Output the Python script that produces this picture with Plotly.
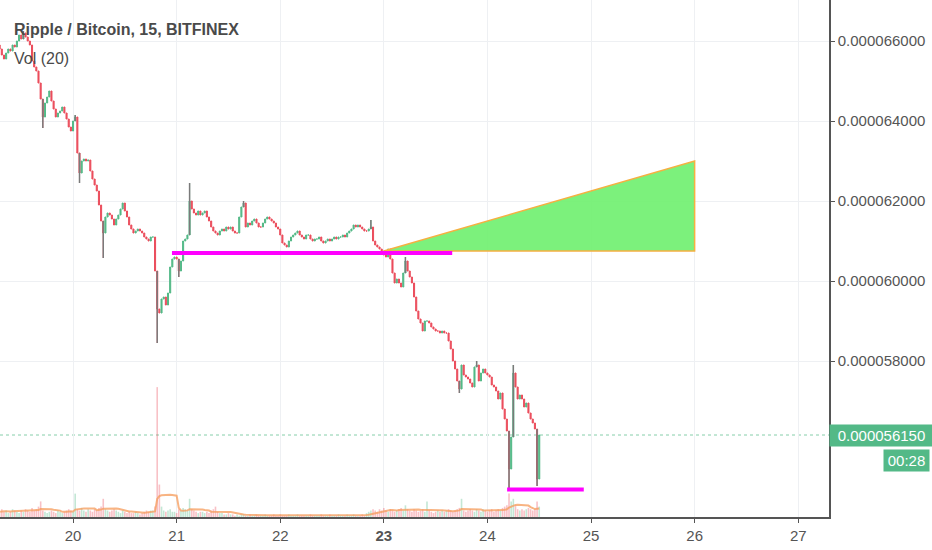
import plotly.graph_objects as go
import pandas as pd

# ---- data (prices in units of 1e-9 BTC) ----
start_day = 19.25          # first 30-minute bar: 19th, 06:00
bar_days = 1 / 48          # 30 minutes
first_open = 65800

closes = [
    65700, 65900, 65800, 65650, 65550, 65700, 65800, 65750, 65900, 65850, 66000, 66150, 66050, 66200, 66100, 66000,
    65900, 65500, 65350, 65250, 64950, 64550, 64100, 64450, 64600, 64750, 64500, 64300, 64100, 64200, 64250, 64350,
    64200, 64050, 63850, 63750, 64000, 64100, 63200, 62700, 63000, 63050, 63000, 63025, 62750, 62550, 62400, 62250,
    61900, 61500, 61200, 61600, 61700, 61650, 61550, 61400, 61550, 61650, 61800, 61950, 61750, 61600, 61400, 61300,
    61200, 61250, 61300, 61250, 61200, 61100, 61050, 61000, 61100, 61100, 60250, 59300, 59200, 59550, 59600, 59400,
    59700, 60350, 60550, 60600, 60550, 60250, 60500, 61000, 61050, 61150, 62000, 61800, 61700, 61650, 61750, 61650,
    61700, 61750, 61600, 61500, 61350, 61250, 61200, 61150, 61250, 61300, 61250, 61350, 61300, 61350, 61250, 61200,
    61200, 61600, 61850, 61950, 61350, 61450, 61400, 61500, 61550, 61450, 61350, 61350, 61450, 61550, 61600, 61550,
    61500, 61450, 61350, 61300, 61150, 60950, 60900, 60850, 61000, 61100, 61150, 61200, 61250, 61150, 61100, 61050,
    61150, 61150, 61050, 61000, 61050, 61050, 61100, 61000, 60950, 61000, 61050, 61000, 61050, 61100, 61050, 61100,
    61100, 61150, 61100, 61200, 61250, 61300, 61400, 61350, 61400, 61350, 61300, 61250, 61250, 61300, 61350, 61000,
    60900, 60850, 60800, 60750, 60650, 60600, 60800, 60550, 60200, 59950, 60050, 59950, 59850, 60200, 60500, 60250,
    60100, 59950, 59600, 59250, 59050, 58950, 58750, 59000, 59000, 58950, 58850, 58800, 58750, 58750, 58700, 58750,
    58700, 58700, 58500, 58300, 58000, 57800, 57500, 57300, 57900, 57650, 57600, 57550, 57450, 57350, 57850, 57900,
    57500, 57700, 57800, 57700, 57650, 57600, 57400, 57350, 57250, 57050, 57200, 56800, 56550, 56250, 55300, 56100,
    57700, 57350, 57050, 57150, 57050, 56850, 56950, 56700, 56550, 56450, 56300, 55050, 56150,
]

wick_high = {13: 66250, 37: 64150, 90: 62450, 115: 62000, 174: 61525, 190: 60600, 223: 58000, 240: 57900}
wick_low = {22: 63825, 39: 62450, 50: 60575, 75: 58450, 85: 60100, 215: 57200, 238: 54825, 251: 54875}

volumes = [
    4, 5, 3, 6, 4, 5, 3, 4, 6, 5, 4, 3, 5, 4, 6, 5,
    4, 7, 5, 6, 8, 12, 5, 4, 3, 4, 5, 4, 3, 5, 4, 3,
    4, 5, 6, 5, 4, 18, 6, 5, 7, 5, 4, 6, 5, 4, 6, 5,
    7, 8, 14, 6, 5, 4, 5, 6, 5, 4, 3, 5, 4, 3, 4, 3,
    3, 4, 3, 2, 3, 4, 5, 4, 5, 5, 8, 100, 25, 8, 5, 4,
    5, 6, 4, 4, 3, 6, 5, 7, 6, 5, 14, 6, 5, 4, 3, 4,
    4, 3, 4, 3, 5, 6, 8, 4, 3, 3, 2, 2, 3, 2, 2, 1,
    2, 1, 2, 2, 1, 1, 2, 1, 1, 2, 1, 1, 1, 2, 1, 1,
    1, 2, 1, 1, 2, 1, 1, 1, 2, 1, 1, 1, 2, 1, 1, 1,
    1, 1, 2, 1, 1, 1, 1, 2, 1, 1, 1, 2, 1, 1, 1, 2,
    1, 1, 1, 2, 1, 1, 2, 1, 1, 1, 2, 1, 3, 4, 5, 6,
    5, 4, 6, 5, 7, 5, 4, 6, 5, 4, 5, 6, 7, 5, 9, 6,
    5, 4, 6, 5, 4, 5, 6, 4, 12, 5, 4, 3, 4, 5, 4, 5,
    4, 5, 6, 5, 4, 5, 6, 7, 14, 5, 4, 5, 6, 5, 4, 6,
    5, 4, 6, 5, 4, 5, 6, 4, 5, 6, 5, 7, 8, 9, 18, 12,
    14, 9, 6, 5, 6, 5, 6, 7, 6, 5, 6, 12, 8,
]

day_ticks = [20, 21, 22, 23, 24, 25, 26, 27]
day_labels = ["20", "21", "22", "<b>23</b>", "24", "25", "26", "27"]
price_ticks = [58000, 60000, 62000, 64000, 66000]

support_upper = {"price": 60700, "x0": 20.955, "x1": 23.66}
support_lower = {"price": 54790, "x0": 24.19, "x1": 24.93}
triangle_x = [23.0, 26.0, 26.0, 23.0]
triangle_y = [60750, 63000, 60750, 60750]
last_price = 56150
countdown = "00:28"

SCALE = 1e-9
UP = "#53B987"
DOWN = "#EB4D5C"

# ---- derived ----
n = len(closes)
t = [start_day + i * bar_days for i in range(n)]
opens = [first_open] + closes[:-1]
highs = [wick_high.get(i, max(o, c)) for i, (o, c) in enumerate(zip(opens, closes))]
lows = [wick_low.get(i, min(o, c)) for i, (o, c) in enumerate(zip(opens, closes))]

wx, wy = [], []
for i in sorted(set(wick_high) | set(wick_low)):
    wx += [t[i], t[i], None]
    wy += [lows[i] * SCALE, highs[i] * SCALE, None]

vol_colors = ["rgba(83,185,135,0.35)" if c >= o else "rgba(235,77,92,0.35)" for o, c in zip(opens, closes)]
vol_ma = pd.Series(volumes).rolling(10, min_periods=1).mean()

fig = go.Figure()

fig.add_trace(go.Bar(x=t, y=volumes, marker=dict(color=vol_colors, line=dict(width=0)),
                     yaxis="y2", showlegend=False, hoverinfo="skip"))
fig.add_trace(go.Scatter(x=t, y=vol_ma, mode="lines", yaxis="y2",
                         line=dict(color="rgba(245,155,90,0.75)", width=2), showlegend=False, hoverinfo="skip"))

fig.add_trace(go.Candlestick(
    x=t,
    open=[v * SCALE for v in opens],
    high=[v * SCALE for v in highs],
    low=[v * SCALE for v in lows],
    close=[v * SCALE for v in closes],
    increasing=dict(line=dict(color=UP, width=1), fillcolor=UP),
    decreasing=dict(line=dict(color=DOWN, width=1), fillcolor=DOWN),
    showlegend=False,
))
fig.add_trace(go.Scatter(x=wx, y=wy, mode="lines", line=dict(color="#7a7a7a", width=1.5),
                         showlegend=False, hoverinfo="skip"))

fig.add_trace(go.Scatter(x=triangle_x, y=[v * SCALE for v in triangle_y], mode="lines",
                         fill="toself", fillcolor="rgba(110,240,110,0.9)",
                         line=dict(color="#F5B041", width=1.5), showlegend=False, hoverinfo="skip"))

for s in (support_upper, support_lower):
    fig.add_shape(type="line", xref="x", yref="y", x0=s["x0"], x1=s["x1"],
                  y0=s["price"] * SCALE, y1=s["price"] * SCALE,
                  line=dict(color="#FF00FF", width=4))

fig.add_shape(type="line", xref="paper", yref="y", x0=0, x1=1,
              y0=last_price * SCALE, y1=last_price * SCALE,
              line=dict(color="rgba(83,185,135,0.7)", width=1, dash="dot"), layer="below")

fig.add_annotation(xref="paper", yref="y", x=1.0, y=last_price * SCALE, xanchor="left", yanchor="middle",
                   text=f"{last_price * SCALE:.9f}", showarrow=False, bgcolor=UP,
                   width=101, height=19, borderpad=1,
                   font=dict(family="Liberation Sans", size=15, color="white"))
fig.add_annotation(xref="paper", yref="y", x=1.0, y=last_price * SCALE, xanchor="left", yanchor="middle",
                   xshift=54, yshift=-25, text=countdown, showarrow=False, bgcolor=UP,
                   width=43, height=19, borderpad=1,
                   font=dict(family="Liberation Sans", size=15, color="white"))

fig.add_annotation(xref="paper", yref="paper", x=12 / 829, y=1 - 30 / 517, xanchor="left", yanchor="middle",
                   text="Ripple / Bitcoin, 15, BITFINEX", showarrow=False,
                   font=dict(family="Liberation Sans", size=16, color="#4a4a4a", weight="bold"))
fig.add_annotation(xref="paper", yref="paper", x=12 / 829, y=1 - 58 / 517, xanchor="left", yanchor="middle",
                   text="Vol (20)", showarrow=False,
                   font=dict(family="Liberation Sans", size=16, color="#4a4a4a"))

fig.update_layout(
    width=932, height=550,
    margin=dict(l=0, r=103, t=0, b=33),
    paper_bgcolor="white", plot_bgcolor="white",
    bargap=0.25,
    xaxis=dict(range=[19.295, 27.297], tickvals=day_ticks, ticktext=day_labels,
               showgrid=True, gridcolor="#EEF0F3", zeroline=False,
               showline=True, linecolor="#555", linewidth=1.5,
               ticks="outside", ticklen=4, tickcolor="#555",
               tickfont=dict(family="Liberation Sans", size=15, color="#555"),
               rangeslider=dict(visible=False)),
    yaxis=dict(range=[54100 * SCALE, 67025 * SCALE], side="right",
               tickvals=[v * SCALE for v in price_ticks], tickformat=".9f",
               showgrid=True, gridcolor="#EEF0F3", zeroline=False,
               showline=True, linecolor="#555", linewidth=1.5,
               ticks="outside", ticklen=4, tickcolor="#555",
               tickfont=dict(family="Liberation Sans", size=15, color="#555")),
    yaxis2=dict(overlaying="y", range=[0, 398], visible=False),
)

fig.write_html("out.html", config={"displayModeBar": False},
               post_script="document.body.style.margin='0';")
